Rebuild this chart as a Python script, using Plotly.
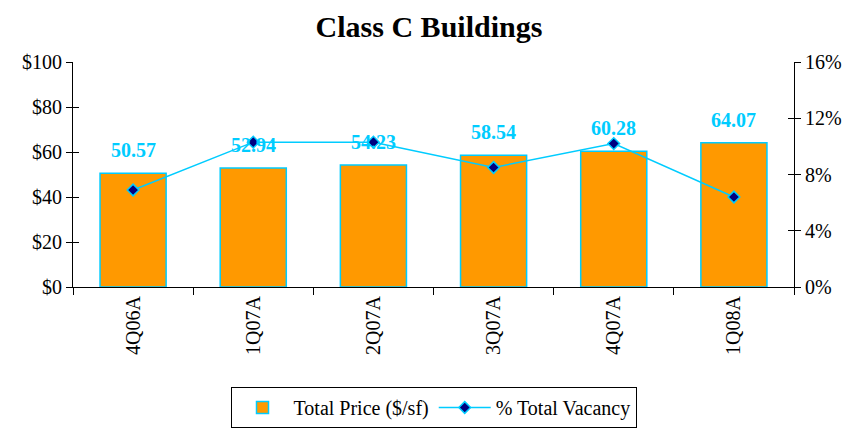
import plotly.graph_objects as go

quarters = ["4Q06A", "1Q07A", "2Q07A", "3Q07A", "4Q07A", "1Q08A"]
total_price = [50.57, 52.94, 54.23, 58.54, 60.28, 64.07]
vacancy = [6.9, 10.3, 10.3, 8.5, 10.2, 6.4]

cyan = "#00CCFF"
orange = "#FF9900"
font_family = "Liberation Serif"

fig = go.Figure()

fig.add_trace(go.Bar(
    x=quarters, y=total_price, name="Total Price ($/sf)",
    marker=dict(color=orange, line=dict(color=cyan, width=1.5)),
    width=0.55,
))

fig.add_trace(go.Scatter(
    x=quarters, y=vacancy, name="% Total Vacancy", yaxis="y2",
    mode="lines+markers",
    line=dict(color=cyan, width=1.5),
    marker=dict(symbol="diamond", size=9, color="#000080", line=dict(color=cyan, width=1.5)),
))

# value labels above the bars
for q, v in zip(quarters, total_price):
    fig.add_annotation(x=q, y=v, text=f"{v:.2f}", showarrow=False, yshift=23,
                       font=dict(family=font_family, size=20, color=cyan, weight="bold"))

tick_style = dict(ticklen=6, tickcolor="black", showgrid=False, zeroline=False, automargin=False)

fig.update_layout(
    width=842, height=420,
    margin=dict(l=65, r=56, t=54, b=141),
    plot_bgcolor="white", paper_bgcolor="white",
    font=dict(family=font_family, size=20, color="black"),
    title=dict(text="<b>Class C Buildings</b>", x=0.5, xanchor="center", y=0.982, yanchor="top",
               font=dict(size=30, family=font_family)),
    xaxis=dict(
        type="category", tickangle=-90, showline=True, linecolor="black", linewidth=1,
        ticks="outside", tickson="boundaries", ticklen=7, tickcolor="black",
        showgrid=False, tickfont=dict(size=20), automargin=False,
    ),
    yaxis=dict(
        range=[0, 100], dtick=20, tickprefix="$", showline=True, linecolor="black", linewidth=1,
        ticks="outside", tickfont=dict(size=20), **tick_style,
    ),
    yaxis2=dict(
        range=[0, 16], dtick=4, ticksuffix="%", overlaying="y", side="right",
        showline=True, linecolor="black", linewidth=1, ticks="outside",
        tickfont=dict(size=20), **tick_style,
    ),
    # inner halves of the crossing tick marks
    yaxis3=dict(range=[0, 100], dtick=20, overlaying="y", side="left", anchor="x", ticks="inside",
                showticklabels=False, showline=False, **tick_style),
    yaxis4=dict(range=[0, 16], dtick=4, overlaying="y", side="right", anchor="x", ticks="inside",
                showticklabels=False, showline=False, **tick_style),
    legend=dict(
        orientation="h", x=0.5, xanchor="center", yref="container", y=0.0, yanchor="bottom",
        bordercolor="black", borderwidth=1, font=dict(size=20),
        traceorder="normal", itemwidth=52,
    ),
    bargap=0.45,
)

# invisible traces so the tick-only axes get drawn
fig.add_trace(go.Scatter(x=quarters[:1], y=[0], yaxis="y3", mode="markers",
                         marker=dict(opacity=0), showlegend=False, hoverinfo="skip"))
fig.add_trace(go.Scatter(x=quarters[:1], y=[0], yaxis="y4", mode="markers",
                         marker=dict(opacity=0), showlegend=False, hoverinfo="skip"))

fig.write_html("out.html")
